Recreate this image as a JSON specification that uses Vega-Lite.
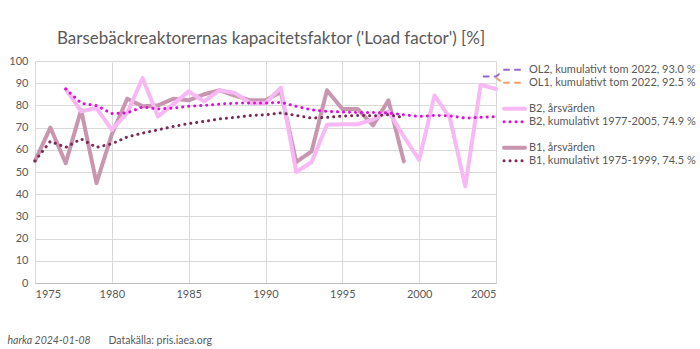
{
  "$schema": "https://vega.github.io/schema/vega-lite/v6.json",
  "autosize": {"type": "none"},
  "width": 461,
  "height": 222,
  "padding": {"left": 35, "top": 61, "right": 204, "bottom": 66},
  "background": "white",
  "config": {
    "font": "Lato",
    "view": {"stroke": null},
    "line": {"strokeCap": "round"},
    "axis": {
      "labelColor": "#595959",
      "labelFontSize": 11,
      "gridColor": "#D9D9D9",
      "gridWidth": 1,
      "ticks": false,
      "titleColor": "#595959",
      "titleFontWeight": "normal",
      "titleFontSize": 10.5
    }
  },
  "title": {
    "text": "Barsebäckreaktorernas kapacitetsfaktor ('Load factor') [%]",
    "frame": "group",
    "anchor": "start",
    "dx": 22,
    "offset": 7,
    "fontSize": 17,
    "fontWeight": "normal",
    "color": "#595959"
  },
  "data": {
    "values": [
      {"year": 1975, "serie": "B1, årsvärden", "value": 55},
      {"year": 1976, "serie": "B1, årsvärden", "value": 70},
      {"year": 1977, "serie": "B1, årsvärden", "value": 54},
      {"year": 1978, "serie": "B1, årsvärden", "value": 78},
      {"year": 1979, "serie": "B1, årsvärden", "value": 45},
      {"year": 1980, "serie": "B1, årsvärden", "value": 67},
      {"year": 1981, "serie": "B1, årsvärden", "value": 83},
      {"year": 1982, "serie": "B1, årsvärden", "value": 79.6},
      {"year": 1983, "serie": "B1, årsvärden", "value": 80},
      {"year": 1984, "serie": "B1, årsvärden", "value": 83},
      {"year": 1985, "serie": "B1, årsvärden", "value": 82.3},
      {"year": 1986, "serie": "B1, årsvärden", "value": 85},
      {"year": 1987, "serie": "B1, årsvärden", "value": 86.8},
      {"year": 1988, "serie": "B1, årsvärden", "value": 84.4},
      {"year": 1989, "serie": "B1, årsvärden", "value": 82.3},
      {"year": 1990, "serie": "B1, årsvärden", "value": 82.3},
      {"year": 1991, "serie": "B1, årsvärden", "value": 86},
      {"year": 1992, "serie": "B1, årsvärden", "value": 54.5},
      {"year": 1993, "serie": "B1, årsvärden", "value": 59.3},
      {"year": 1994, "serie": "B1, årsvärden", "value": 86.8},
      {"year": 1995, "serie": "B1, årsvärden", "value": 78.4},
      {"year": 1996, "serie": "B1, årsvärden", "value": 78.4},
      {"year": 1997, "serie": "B1, årsvärden", "value": 71},
      {"year": 1998, "serie": "B1, årsvärden", "value": 82.3},
      {"year": 1999, "serie": "B1, årsvärden", "value": 54.8},

      {"year": 1977, "serie": "B2, årsvärden", "value": 87.4},
      {"year": 1978, "serie": "B2, årsvärden", "value": 77.3},
      {"year": 1979, "serie": "B2, årsvärden", "value": 78.8},
      {"year": 1980, "serie": "B2, årsvärden", "value": 69},
      {"year": 1981, "serie": "B2, årsvärden", "value": 76.6},
      {"year": 1982, "serie": "B2, årsvärden", "value": 92.3},
      {"year": 1983, "serie": "B2, årsvärden", "value": 75},
      {"year": 1984, "serie": "B2, årsvärden", "value": 80.6},
      {"year": 1985, "serie": "B2, årsvärden", "value": 86.3},
      {"year": 1986, "serie": "B2, årsvärden", "value": 81.8},
      {"year": 1987, "serie": "B2, årsvärden", "value": 86.8},
      {"year": 1988, "serie": "B2, årsvärden", "value": 85.6},
      {"year": 1989, "serie": "B2, årsvärden", "value": 81.1},
      {"year": 1990, "serie": "B2, årsvärden", "value": 81},
      {"year": 1991, "serie": "B2, årsvärden", "value": 88},
      {"year": 1992, "serie": "B2, årsvärden", "value": 50},
      {"year": 1993, "serie": "B2, årsvärden", "value": 54.5},
      {"year": 1994, "serie": "B2, årsvärden", "value": 71.3},
      {"year": 1995, "serie": "B2, årsvärden", "value": 71.5},
      {"year": 1996, "serie": "B2, årsvärden", "value": 71.5},
      {"year": 1997, "serie": "B2, årsvärden", "value": 73.6},
      {"year": 1998, "serie": "B2, årsvärden", "value": 77.3},
      {"year": 1999, "serie": "B2, årsvärden", "value": 66},
      {"year": 2000, "serie": "B2, årsvärden", "value": 55.5},
      {"year": 2001, "serie": "B2, årsvärden", "value": 84.5},
      {"year": 2002, "serie": "B2, årsvärden", "value": 74.3},
      {"year": 2003, "serie": "B2, årsvärden", "value": 43.5},
      {"year": 2004, "serie": "B2, årsvärden", "value": 89.3},
      {"year": 2005, "serie": "B2, årsvärden", "value": 87.4},

      {"year": 1975, "serie": "B1, kumulativt 1975-1999, 74.5 %", "value": 55},
      {"year": 1976, "serie": "B1, kumulativt 1975-1999, 74.5 %", "value": 63.8},
      {"year": 1977, "serie": "B1, kumulativt 1975-1999, 74.5 %", "value": 61.1},
      {"year": 1978, "serie": "B1, kumulativt 1975-1999, 74.5 %", "value": 64.9},
      {"year": 1979, "serie": "B1, kumulativt 1975-1999, 74.5 %", "value": 61.1},
      {"year": 1980, "serie": "B1, kumulativt 1975-1999, 74.5 %", "value": 62.7},
      {"year": 1981, "serie": "B1, kumulativt 1975-1999, 74.5 %", "value": 65.8},
      {"year": 1982, "serie": "B1, kumulativt 1975-1999, 74.5 %", "value": 67.5},
      {"year": 1983, "serie": "B1, kumulativt 1975-1999, 74.5 %", "value": 69},
      {"year": 1984, "serie": "B1, kumulativt 1975-1999, 74.5 %", "value": 70.5},
      {"year": 1985, "serie": "B1, kumulativt 1975-1999, 74.5 %", "value": 71.8},
      {"year": 1986, "serie": "B1, kumulativt 1975-1999, 74.5 %", "value": 72.8},
      {"year": 1987, "serie": "B1, kumulativt 1975-1999, 74.5 %", "value": 73.9},
      {"year": 1988, "serie": "B1, kumulativt 1975-1999, 74.5 %", "value": 74.6},
      {"year": 1989, "serie": "B1, kumulativt 1975-1999, 74.5 %", "value": 75.4},
      {"year": 1990, "serie": "B1, kumulativt 1975-1999, 74.5 %", "value": 75.8},
      {"year": 1991, "serie": "B1, kumulativt 1975-1999, 74.5 %", "value": 76.6},
      {"year": 1992, "serie": "B1, kumulativt 1975-1999, 74.5 %", "value": 75.5},
      {"year": 1993, "serie": "B1, kumulativt 1975-1999, 74.5 %", "value": 74.3},
      {"year": 1994, "serie": "B1, kumulativt 1975-1999, 74.5 %", "value": 74.6},
      {"year": 1995, "serie": "B1, kumulativt 1975-1999, 74.5 %", "value": 75.2},
      {"year": 1996, "serie": "B1, kumulativt 1975-1999, 74.5 %", "value": 75.5},
      {"year": 1997, "serie": "B1, kumulativt 1975-1999, 74.5 %", "value": 75.3},
      {"year": 1998, "serie": "B1, kumulativt 1975-1999, 74.5 %", "value": 75.8},
      {"year": 1999, "serie": "B1, kumulativt 1975-1999, 74.5 %", "value": 74.5},

      {"year": 1977, "serie": "B2, kumulativt 1977-2005, 74.9 %", "value": 87.4},
      {"year": 1978, "serie": "B2, kumulativt 1977-2005, 74.9 %", "value": 81},
      {"year": 1979, "serie": "B2, kumulativt 1977-2005, 74.9 %", "value": 79.9},
      {"year": 1980, "serie": "B2, kumulativt 1977-2005, 74.9 %", "value": 76.3},
      {"year": 1981, "serie": "B2, kumulativt 1977-2005, 74.9 %", "value": 76.6},
      {"year": 1982, "serie": "B2, kumulativt 1977-2005, 74.9 %", "value": 79.3},
      {"year": 1983, "serie": "B2, kumulativt 1977-2005, 74.9 %", "value": 78.4},
      {"year": 1984, "serie": "B2, kumulativt 1977-2005, 74.9 %", "value": 78.8},
      {"year": 1985, "serie": "B2, kumulativt 1977-2005, 74.9 %", "value": 79.6},
      {"year": 1986, "serie": "B2, kumulativt 1977-2005, 74.9 %", "value": 80},
      {"year": 1987, "serie": "B2, kumulativt 1977-2005, 74.9 %", "value": 80.6},
      {"year": 1988, "serie": "B2, kumulativt 1977-2005, 74.9 %", "value": 81},
      {"year": 1989, "serie": "B2, kumulativt 1977-2005, 74.9 %", "value": 81.1},
      {"year": 1990, "serie": "B2, kumulativt 1977-2005, 74.9 %", "value": 81},
      {"year": 1991, "serie": "B2, kumulativt 1977-2005, 74.9 %", "value": 81.4},
      {"year": 1992, "serie": "B2, kumulativt 1977-2005, 74.9 %", "value": 79.6},
      {"year": 1993, "serie": "B2, kumulativt 1977-2005, 74.9 %", "value": 78},
      {"year": 1994, "serie": "B2, kumulativt 1977-2005, 74.9 %", "value": 77.3},
      {"year": 1995, "serie": "B2, kumulativt 1977-2005, 74.9 %", "value": 77},
      {"year": 1996, "serie": "B2, kumulativt 1977-2005, 74.9 %", "value": 76.8},
      {"year": 1997, "serie": "B2, kumulativt 1977-2005, 74.9 %", "value": 76.8},
      {"year": 1998, "serie": "B2, kumulativt 1977-2005, 74.9 %", "value": 76.6},
      {"year": 1999, "serie": "B2, kumulativt 1977-2005, 74.9 %", "value": 75.8},
      {"year": 2000, "serie": "B2, kumulativt 1977-2005, 74.9 %", "value": 75},
      {"year": 2001, "serie": "B2, kumulativt 1977-2005, 74.9 %", "value": 75.5},
      {"year": 2002, "serie": "B2, kumulativt 1977-2005, 74.9 %", "value": 75.3},
      {"year": 2003, "serie": "B2, kumulativt 1977-2005, 74.9 %", "value": 74.3},
      {"year": 2004, "serie": "B2, kumulativt 1977-2005, 74.9 %", "value": 74.6},
      {"year": 2005, "serie": "B2, kumulativt 1977-2005, 74.9 %", "value": 74.9},

      {"year": 2004.2, "serie": "OL2, kumulativt tom 2022, 93.0 %", "value": 93},
      {"year": 2005, "serie": "OL2, kumulativt tom 2022, 93.0 %", "value": 93},
      {"year": 2005.4, "serie": "OL2, kumulativt tom 2022, 93.0 %", "value": 95.2},
      {"year": 2005, "serie": "OL1, kumulativt tom 2022, 92.5 %", "value": 92.5},
      {"year": 2005.4, "serie": "OL1, kumulativt tom 2022, 92.5 %", "value": 90.3}
    ]
  },
  "encoding": {
    "x": {
      "field": "year",
      "type": "quantitative",
      "scale": {"domain": [1975, 2005], "nice": false, "zero": false},
      "axis": {
        "values": [1975, 1980, 1985, 1990, 1995, 2000, 2005],
        "format": "d",
        "labelPadding": 5,
        "domainColor": "#BFBFBF",
        "title": "Datakälla: pris.iaea.org",
        "titleX": 73,
        "titleY": 60,
        "titleAlign": "left",
        "titleAnchor": null,
        "titleBaseline": "alphabetic"
      }
    },
    "y": {
      "field": "value",
      "type": "quantitative",
      "scale": {"domain": [0, 100], "nice": false},
      "axis": {
        "values": [0, 10, 20, 30, 40, 50, 60, 70, 80, 90, 100],
        "domain": false,
        "labelPadding": 7,
        "title": "harka 2024-01-08",
        "titleFontStyle": "italic",
        "titleAngle": 0,
        "titleX": -28,
        "titleY": 282,
        "titleAlign": "left",
        "titleAnchor": null,
        "titleBaseline": "alphabetic"
      }
    },
    "color": {
      "field": "serie",
      "type": "nominal",
      "scale": {
        "domain": [
          "OL2, kumulativt tom 2022, 93.0 %",
          "OL1, kumulativt tom 2022, 92.5 %",
          " ",
          "B2, årsvärden",
          "B2, kumulativt 1977-2005, 74.9 %",
          "  ",
          "B1, årsvärden",
          "B1, kumulativt 1975-1999, 74.5 %"
        ],
        "range": ["#9966CC", "#F4A070", "transparent", "#F8B8F4", "#E010DC", "transparent", "#C896AE", "#7A2A55"]
      },
      "legend": {
        "title": null,
        "orient": "none",
        "legendX": 467,
        "legendY": 3,
        "symbolType": "stroke",
        "symbolSize": 441,
        "labelFontSize": 11,
        "labelLimit": 0,
        "labelColor": "#595959",
        "labelOffset": 2,
        "clipHeight": 11.7,
        "rowPadding": 0,
        "encode": {"symbols": {"update": {"strokeCap": {"value": "round"}}}}
      }
    },
    "strokeDash": {
      "field": "serie",
      "type": "nominal",
      "scale": {
        "domain": [
          "OL2, kumulativt tom 2022, 93.0 %",
          "OL1, kumulativt tom 2022, 92.5 %",
          " ",
          "B2, årsvärden",
          "B2, kumulativt 1977-2005, 74.9 %",
          "  ",
          "B1, årsvärden",
          "B1, kumulativt 1975-1999, 74.5 %"
        ],
        "range": [[5, 6], [5, 6], [1, 0], [1, 0], [0.1, 5.9], [1, 0], [1, 0], [0.1, 5.9]]
      }
    },
    "strokeWidth": {
      "field": "serie",
      "type": "nominal",
      "scale": {
        "type": "ordinal",
        "domain": [
          "OL2, kumulativt tom 2022, 93.0 %",
          "OL1, kumulativt tom 2022, 92.5 %",
          " ",
          "B2, årsvärden",
          "B2, kumulativt 1977-2005, 74.9 %",
          "  ",
          "B1, årsvärden",
          "B1, kumulativt 1975-1999, 74.5 %"
        ],
        "range": [2, 2, 0, 4, 3, 0, 4, 3]
      }
    }
  },
  "layer": [
    {
      "transform": [{"filter": {"field": "serie", "oneOf": ["B1, årsvärden", "B2, årsvärden"]}}],
      "mark": {"type": "line", "strokeJoin": "round"}
    },
    {
      "transform": [{"filter": {"field": "serie", "oneOf": ["B1, kumulativt 1975-1999, 74.5 %", "B2, kumulativt 1977-2005, 74.9 %"]}}],
      "mark": {"type": "line"}
    },
    {
      "transform": [{"filter": {"field": "serie", "oneOf": ["OL2, kumulativt tom 2022, 93.0 %", "OL1, kumulativt tom 2022, 92.5 %"]}}],
      "mark": {"type": "line", "clip": false}
    }
  ]
}
